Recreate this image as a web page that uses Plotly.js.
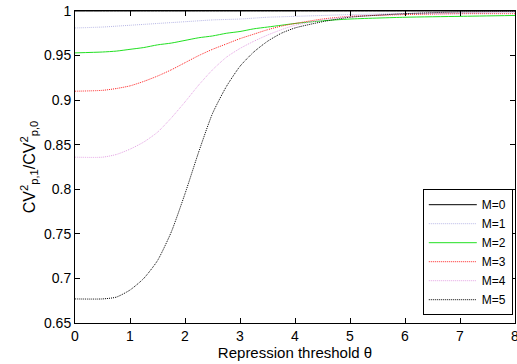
<!DOCTYPE html>
<html>
<head>
<meta charset="utf-8">
<script src="https://cdn.plot.ly/plotly-3.0.1.min.js"></script>
<style>html,body{margin:0;padding:0;background:#fff;}#chart{width:517px;height:364px;}</style>
</head>
<body>
<div id="chart"></div>
<script>
const theta = [0, 0.5, 0.75, 1, 1.25, 1.5, 1.75, 2, 2.25, 2.5, 2.75, 3, 3.25, 3.5, 3.75, 4, 4.5, 5, 6, 7, 8];
const M0 = [1, 1, 1, 1, 1, 1, 1, 1, 1, 1, 1, 1, 1, 1, 1, 1, 1, 1, 1, 1, 1];
const M1 = [0.981, 0.982, 0.983, 0.984, 0.985, 0.986, 0.987, 0.988, 0.989, 0.990, 0.9905, 0.991, 0.992, 0.993, 0.9935, 0.994, 0.995, 0.996, 0.997, 0.997, 0.998];
const M2 = [0.953, 0.954, 0.955, 0.957, 0.959, 0.962, 0.964, 0.967, 0.970, 0.972, 0.975, 0.977, 0.980, 0.982, 0.984, 0.986, 0.989, 0.991, 0.993, 0.994, 0.995];
const M3 = [0.910, 0.911, 0.913, 0.916, 0.921, 0.927, 0.934, 0.942, 0.950, 0.957, 0.963, 0.969, 0.974, 0.979, 0.983, 0.986, 0.991, 0.994, 0.996, 0.997, 0.997];
const M4 = [0.836, 0.836, 0.839, 0.845, 0.853, 0.864, 0.880, 0.898, 0.917, 0.934, 0.948, 0.958, 0.966, 0.973, 0.979, 0.984, 0.990, 0.994, 0.997, 0.998, 0.999];
const M5 = [0.677, 0.677, 0.679, 0.687, 0.700, 0.720, 0.752, 0.795, 0.842, 0.885, 0.915, 0.938, 0.954, 0.966, 0.975, 0.981, 0.988, 0.993, 0.997, 0.999, 0.9995];
const names = ["M=0", "M=1", "M=2", "M=3", "M=4", "M=5"];
const series = [M0, M1, M2, M3, M4, M5];
const colors = ["#000000", "#b8b8e6", "#22e022", "#ff2020", "#e4a2e4", "#000000"];
const dashes = ["solid", "1px,1px", "solid", "1px,1px", "1px,1px", "1px,1px"];

const traces = series.map((s, i) => ({
  x: theta, y: s, name: names[i], type: "scatter", mode: "lines",
  line: {color: colors[i], width: 1, dash: dashes[i], shape: "spline", smoothing: 0.6}
}));

const axisCommon = {
  showline: true, linecolor: "#000", linewidth: 1, mirror: "ticks",
  ticks: "inside", ticklen: 5, tickcolor: "#000", showgrid: false, zeroline: false,
  ticklabeloverflow: "allow",
  tickfont: {family: "Liberation Sans, Arial, sans-serif", size: 14, color: "#000"}
};

const layout = {
  width: 517, height: 364,
  margin: {l: 75, r: 2, t: 11, b: 41},
  paper_bgcolor: "#fff", plot_bgcolor: "#fff",
  font: {family: "Liberation Sans, Arial, sans-serif", size: 14, color: "#000"},
  xaxis: Object.assign({}, axisCommon, {
    range: [0, 8], tickvals: [0,1,2,3,4,5,6,7,8],
    title: {text: "Repression threshold θ", standoff: 2, font: {size: 15}}
  }),
  yaxis: Object.assign({}, axisCommon, {
    range: [0.65, 1], tickvals: [0.65,0.7,0.75,0.8,0.85,0.9,0.95,1],
    ticktext: ["0.65","0.7","0.75","0.8","0.85","0.9","0.95","1"],
    title: {text: "CV<sup>2</sup><sub>p,1</sub>/CV<sup>2</sup><sub>p,0</sub>", standoff: 4, font: {size: 16}}
  }),
  showlegend: true,
  legend: {
    x: 0.995, xanchor: "right", y: 0.025, yanchor: "bottom",
    bgcolor: "#fff", bordercolor: "#000", borderwidth: 1,
    font: {size: 12}, tracegroupgap: 0, itemwidth: 48
  }
};

Plotly.newPlot("chart", traces, layout, {displayModeBar: false, staticPlot: true});
</script>
</body>
</html>
